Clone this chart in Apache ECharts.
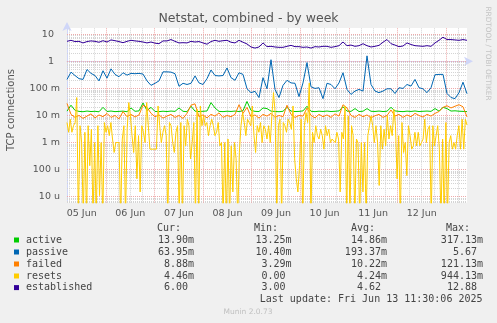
<!DOCTYPE html>
<html>
<head>
<meta charset="utf-8">
<script src="https://cdn.jsdelivr.net/npm/echarts@6/dist/echarts.min.js"></script>
<style>
  html, body { margin: 0; padding: 0; background: #f0f0f0; }
  #chart { width: 497px; height: 323px; }
</style>
</head>
<body>
<div id="chart"></div>
<script>
// Time window, in hours since 05 Jun 00:00
const START_H = 4.73;
const END_H = 202.38;

// X tick labels (placed at noon of each day)
const dayLabels = ['05 Jun', '06 Jun', '07 Jun', '08 Jun', '09 Jun', '10 Jun', '11 Jun', '12 Jun'];

// Y tick labels (decades)
const yTickExps = [-5, -4, -3, -2, -1, 0, 1];
const yTickLabels = ['10 u', '100 u', '1 m', '10 m', '100 m', '1  ', '10  '];

// Visible log10 range of the value axis
const Y_MIN = -5.222;
const Y_MAX = 1.233;

// Series values (active, failed, resets in milli-connections; passive, established in connections)
const active = [
  14.5, 24, 15.5, 14.2, 13.8, 14.6, 14.0, 14.3, 13.7, 20,
  14.1, 14.6, 13.9, 14.2, 14.5, 13.8, 19, 14.3, 14.8, 29,
  15.2, 20, 14.1, 13.9, 14.4, 14.0, 14.6, 14.2, 19, 14.3,
  13.8, 22, 14.5, 14.0, 14.3, 14.7, 30, 19, 14.2, 13.9,
  14.4, 14.1, 14.6, 14.0, 15.0, 33, 15.5, 14.2, 14.0, 19,
  18, 14.5, 14.1, 13.8, 14.3, 20, 14.6, 14.0, 14.2, 14.8,
  22, 14.3, 13.9, 14.4, 14.1, 14.6, 14.0, 14.3, 14.8, 21,
  14.5, 14.2, 18, 14.0, 14.4, 18, 14.3, 14.1, 14.6, 14.0,
  14.4, 20, 14.8, 14.2, 13.9, 14.5, 14.1, 14.7, 14.0, 14.3,
  14.6, 14.2, 18, 14.5, 20, 18, 14.6, 14.9, 14.4, 14.2,
  13.9
];

const passive = [
  0.215, 0.40, 0.30, 0.23, 0.215, 0.50, 0.36, 0.30, 0.19, 0.45,
  0.24, 0.53, 0.33, 0.27, 0.38, 0.31, 0.36, 0.35, 0.36, 0.34,
  0.19, 0.13, 0.155, 0.19, 0.41, 0.41, 0.40, 0.35, 0.12, 0.155,
  0.14, 0.155, 0.29, 0.16, 0.14, 0.23, 0.48, 0.30, 0.29, 0.30,
  0.57, 0.25, 0.20, 0.38, 0.33, 0.097, 0.07, 0.078, 0.046, 0.25,
  0.097, 1.15, 0.092, 0.046, 0.13, 0.20, 0.16, 0.155, 0.05, 0.16,
  0.9, 0.115, 0.10, 0.106, 0.042, 0.155, 0.14, 0.097, 0.16, 0.38,
  0.092, 0.06, 0.08, 0.092, 0.08, 1.6, 0.14, 0.08, 0.07, 0.08,
  0.097, 0.097, 0.065, 0.106, 0.10, 0.14, 0.122, 0.215, 0.106, 0.097,
  0.07, 0.106, 0.32, 0.33, 0.33, 0.065, 0.046, 0.042, 0.07, 0.17,
  0.06395
];

const failed = [
  28, 11, 8.5, 10, 7.8, 9.5, 11.5, 8.2, 10.5, 9,
  12, 8.5, 10, 7.5, 14, 9, 11, 8.8, 10.5, 24,
  20, 12, 9, 10.5, 8, 9.5, 11, 8.5, 10, 7.8,
  12, 24, 27, 9, 10.5, 8.2, 11, 9.5, 12.5, 8.5,
  10, 9, 11, 25, 12, 20, 9, 10.5, 8, 11,
  9.5, 12, 8.5, 10, 9, 24, 11, 8.5, 10, 9.5,
  19, 10, 8.2, 11, 9, 10.5, 8.5, 11.5, 9.5, 25,
  19, 10, 8.5, 11, 9, 10.5, 8.2, 9.8, 11, 8.5,
  10, 16, 9.5, 11, 8.5, 10.5, 9, 12, 10, 8.8,
  11, 9.5, 12, 14, 20, 23, 19, 22, 25, 21,
  8.88
];

const resets = [
  5.5, 2.4, 7.3, 2.4, 4.2, 5.5, 46, 0, 4.2, 1.0,
  0, 2.4, 0, 4.2, 0.14, 3.1, 0, 1.0, 0, 4.2,
  0.011, 1.0, 0, 5.5, 2.4, 4.2, 1.8, 5.5, 1.35, 0.43,
  1.0, 1.0, 1.0, 0, 1.35, 4.2, 0, 3.1, 30, 9.7,
  1.8, 0.43, 4.2, 0.046, 1.8, 0.015, 4.2, 2.4, 1.0, 30,
  4.2, 0.57, 0.57, 0.57, 0.57, 0.57, 22.5, 4.2, 1.0, 2.4,
  4.2, 1.8, 0, 5.5, 4.2,
  1.0, 0.43, 2.4, 4.2, 0, 5.5, 0, 4.2, 0.76, 7.3,
  4.2, 0.25, 1.0, 5.5, 0, 17, 0, 22.5, 4.2, 9.7,
  4.2, 5.5, 1.8, 4.2, 7.3, 4.2, 1.8, 2.4, 5.5, 0.76,
  1.0, 0, 1.0, 0, 1.35, 0, 0.76, 0.015, 1.0, 0.25,
  0, 0.43, 4.2, 12.8, 5.5, 1.8, 7.3, 5.5, 4.2, 22.5,
  1.8, 0.43, 4.2, 2.4, 5.5, 1.0, 4.2, 3.1, 1.35, 4.2,
  1.0,
  9.7, 70, 12.8, 0, 4.2, 7.3, 0, 5.5, 4.2, 2.4,
  7.3, 5.5, 3.1, 22.5, 0.25, 0.046, 0.015, 0.14, 7.3, 0,
  4.2, 12.8, 5.5, 160, 0, 2.4, 1.0, 4.2, 1.8, 1.35,
  3.1, 1.8, 0.57, 4.2, 1.8, 3.1, 1.0, 1.35, 1.35, 1.0,
  2.4, 1.35, 0.015, 2.4, 1.35, 22.5, 0, 9.7, 0, 4.2,
  1.8, 0, 1.35, 1.0, 0, 1.0, 0.015, 1.0, 0, 1.8,
  4.2,
  9.7, 4.2, 1.0, 4.2, 1.0, 0.026, 4.2, 0.57, 3.1, 0.76,
  9.7, 1.35, 4.2, 1.8, 17, 4.2, 0.046, 1.8, 0, 5.5,
  0.43, 1.0, 0.06, 4.2, 1.8, 0.57, 0.76, 2.4, 0.76, 2.4,
  0.76, 1.0, 1.35, 7.3, 1.0, 3.1, 4.2, 0, 4.2, 0.76,
  1.8, 4.2, 0.57, 0, 1.35, 0, 5.5, 0, 1.0, 1.8,
  0.57, 1.0, 0.57, 1.8, 4.2, 0.57, 7.3, 0.57, 7.3, 4.46
];

const established = [
  5.5, 6.0, 5.4, 5.5, 4.8, 5.4, 5.7, 5.5, 5.1, 5.8,
  5.2, 6.2, 5.8, 5.4, 4.9, 5.5, 6.0, 5.7, 5.5, 5.2,
  4.8, 5.2, 4.7, 4.5, 5.7, 5.7, 6.4, 5.5, 4.8, 4.9,
  4.8, 5.5, 5.2, 5.4, 4.8, 4.3, 5.4, 6.0, 5.5, 5.8,
  6.0, 5.1, 4.8, 6.0, 5.1, 4.4, 3.4, 3.1, 3.4, 4.8,
  3.5, 3.6, 3.4, 3.3, 3.3, 3.6, 3.9, 3.5, 3.5, 3.3,
  3.4, 3.1, 3.5, 3.4, 3.6, 3.6, 3.3, 3.5, 3.8, 5.2,
  3.8, 4.0, 3.6, 3.8, 4.5, 3.8, 3.4, 3.6, 3.9, 5.1,
  6.4, 4.5, 4.0, 3.5, 3.7, 4.8, 4.2, 3.8, 3.7, 3.6,
  3.8, 3.6, 4.8, 6.0, 7.8, 6.4, 6.4, 6.2, 6.0, 6.4,
  6.0
];

// Legend table
const seriesNames = ['active', 'passive', 'failed', 'resets', 'established'];
const seriesColors = ['#00cc00', '#0066b3', '#ff8000', '#ffcc00', '#330099'];
const curText = ['13.90m', '63.95m', '8.88m', '4.46m', '6.00 '];
const minText = ['13.25m', '10.40m', '3.29m', '0.00 ', '3.00 '];
const avgText = ['14.86m', '193.37m', '10.22m', '4.24m', '4.62 '];
const maxText = ['317.13m', '5.67 ', '121.13m', '944.13m', '12.88 '];
const lastUpdate = 'Last update: Fri Jun 13 11:30:06 2025';

// ---- build chart ----
const FONT = '"DejaVu Sans", "Liberation Sans", sans-serif';
const MONO = '"DejaVu Sans Mono", "Liberation Mono", monospace';

function toPoints(values, scale) {
  const step = (END_H - START_H) / (values.length - 1);
  return values.map((v, i) => [
    START_H + i * step,
    v > 0 ? Math.log10(v * scale) : Y_MIN - 0.6
  ]);
}

// grid line positions
const minorY = [];
for (let d = -6; d <= 1; d++) {
  for (let k = 2; k <= 9; k++) {
    const v = d + Math.log10(k);
    if (v > Y_MIN && v < Y_MAX) minorY.push(v);
  }
}
const majorX = [];
const minorX = [];
for (let h = 0; h <= 216; h += 6) {
  if (h <= START_H || h >= END_H) continue;
  (h % 24 === 0 ? majorX : minorX).push(h);
}

function gridSeries(axis, values, style, z) {
  return {
    type: 'line', data: [], silent: true, z: z,
    markLine: {
      silent: true, animation: false, symbol: ['none', 'none'],
      label: { show: false }, emphasis: { disabled: true },
      lineStyle: style,
      data: values.map(v => ({ [axis]: v }))
    }
  };
}

const minorStyle = { color: '#d4d4d4', width: 1, type: [1, 1] };
const majorStyle = { color: '#eeaaaa', width: 1, type: [1, 1] };

const dataSeries = [
  [active, 0.001], [passive, 1], [failed, 0.001], [resets, 0.001], [established, 1]
].map(([vals, scale], i) => ({
  name: seriesNames[i],
  type: 'line',
  data: toPoints(vals, scale),
  showSymbol: false,
  symbol: 'none',
  clip: true,
  z: 10 + i,
  lineStyle: { color: seriesColors[i], width: 1 },
  itemStyle: { color: seriesColors[i] },
  emphasis: { disabled: true }
}));

// legend graphics
const legendEls = [];
const headerY = 228.5;
const colRight = { cur: 194, min: 291.5, avg: 387, max: 483 };
const headRight = { cur: 181, min: 278, avg: 375, max: 470 };
[['Cur:', 'cur'], ['Min:', 'min'], ['Avg:', 'avg'], ['Max:', 'max']].forEach(([t, k]) => {
  legendEls.push({
    type: 'text', style: { text: t, x: headRight[k], y: headerY, fill: '#444',
      fontSize: 10, fontFamily: MONO, align: 'right', verticalAlign: 'middle' }
  });
});
seriesNames.forEach((n, i) => {
  const y = 240 + 12 * i - (i === 4 ? 0.4 : 0);
  legendEls.push({ type: 'rect', shape: { x: 14, y: y - 2.5, width: 5, height: 5 },
    style: { fill: seriesColors[i] } });
  legendEls.push({ type: 'text', style: { text: n, x: 26, y: y, fill: '#444',
    fontSize: 10, fontFamily: MONO, align: 'left', verticalAlign: 'middle' } });
  [[curText, 'cur'], [minText, 'min'], [avgText, 'avg'], [maxText, 'max']].forEach(([arr, k]) => {
    legendEls.push({ type: 'text', style: { text: arr[i], x: colRight[k], y: y, fill: '#444',
      fontSize: 10, fontFamily: MONO, align: 'right', verticalAlign: 'middle' } });
  });
});
legendEls.push({ type: 'text', style: { text: lastUpdate, x: 482.5, y: 299.5, fill: '#444',
  fontSize: 10, fontFamily: MONO, align: 'right', verticalAlign: 'middle' } });

const chart = echarts.init(document.getElementById('chart'), null, { renderer: 'canvas' });
chart.setOption({
  animation: false,
  backgroundColor: '#f0f0f0',
  grid: { left: 67, right: 30, top: 28, bottom: 120.3, show: true,
    backgroundColor: '#ffffff', borderWidth: 0 },
  xAxis: {
    type: 'value', min: START_H, max: END_H,
    splitLine: { show: false },
    axisTick: { show: false },
    axisLine: { show: true, lineStyle: { color: '#cfd6f8', width: 1 },
      symbol: ['none', 'arrow'], symbolSize: [7, 9], symbolOffset: [0, 6] },
    axisLabel: {
      customValues: dayLabels.map((_, i) => 12 + 24 * i),
      formatter: v => dayLabels[Math.round((v - 12) / 24)],
      color: '#555', fontSize: 9.5, fontFamily: FONT, margin: 6
    }
  },
  yAxis: {
    type: 'value', min: Y_MIN, max: Y_MAX,
    splitLine: { show: false },
    axisTick: { show: false },
    axisLine: { show: true, lineStyle: { color: '#cfd6f8', width: 1 },
      symbol: ['none', 'arrow'], symbolSize: [7, 9], symbolOffset: [0, 6] },
    axisLabel: {
      customValues: yTickExps,
      formatter: v => yTickLabels[yTickExps.indexOf(Math.round(v))],
      color: '#555', fontSize: 9.5, fontFamily: FONT, margin: 7
    }
  },
  series: [
    gridSeries('yAxis', minorY, minorStyle, 1),
    gridSeries('xAxis', minorX, minorStyle, 1),
    gridSeries('yAxis', yTickExps, majorStyle, 2),
    gridSeries('xAxis', majorX, majorStyle, 2)
  ].concat(dataSeries),
  graphic: [
    { type: 'text', style: { text: 'Netstat, combined - by week', x: 248.5, y: 19,
      fill: '#555', fontSize: 12.5, fontFamily: FONT, align: 'center', verticalAlign: 'middle' } },
    { type: 'text', rotation: Math.PI / 2, x: 11, y: 110,
      style: { text: 'TCP connections', x: 0, y: 0, fill: '#555', fontSize: 10,
        fontFamily: FONT, align: 'center', verticalAlign: 'middle' } },
    { type: 'text', rotation: -Math.PI / 2, x: 487.5, y: 53.5,
      style: { text: 'RRDTOOL / TOBI OETIKER', x: 0, y: 0, fill: '#c4c4c4', fontSize: 7.3,
        fontFamily: FONT, align: 'center', verticalAlign: 'middle' } },
    { type: 'text', style: { text: 'Munin 2.0.73', x: 248, y: 312, fill: '#c0c0c0',
      fontSize: 7.5, fontFamily: FONT, align: 'center', verticalAlign: 'middle' } }
  ].concat(legendEls)
});
</script>
</body>
</html>
